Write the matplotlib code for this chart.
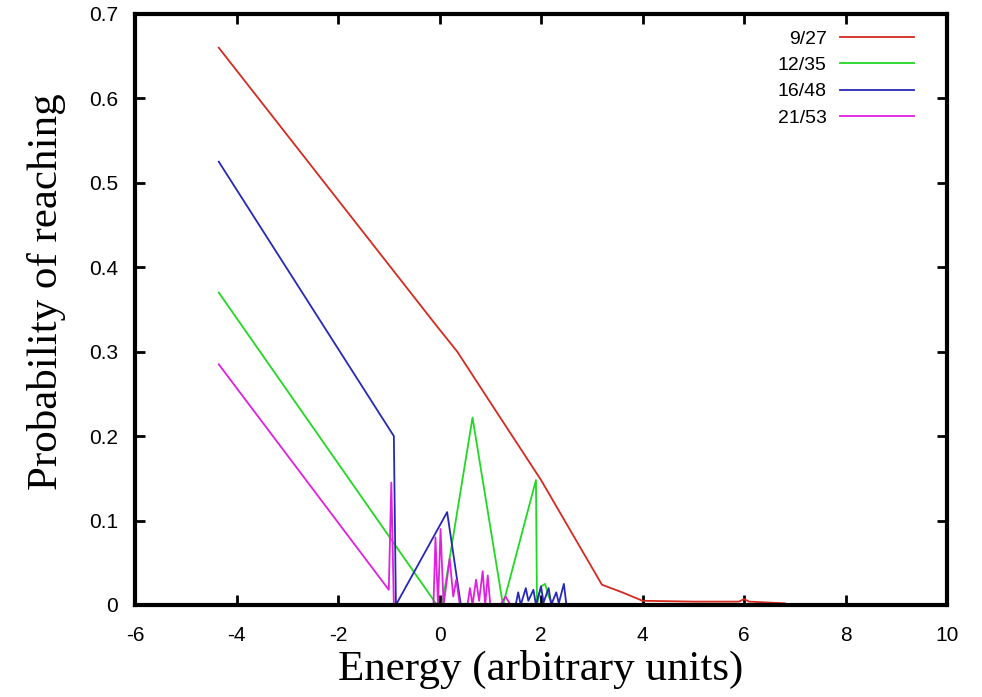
import numpy as np
import matplotlib as mpl
mpl.use('Agg')
import matplotlib.pyplot as plt

mpl.rcParams['font.family'] = ['Liberation Sans', 'DejaVu Sans']
mpl.rcParams['axes.unicode_minus'] = False

# series
red_x = [-4.35, -0.05, 0.35, 1.0, 2.0, 3.2, 3.6, 4.0, 5.0, 5.9, 6.0, 6.1, 6.8]
red_y = [0.66, 0.33, 0.30, 0.24, 0.148, 0.024, 0.015, 0.005, 0.004, 0.004, 0.007, 0.004, 0.002]

green_x = [-4.35, -0.05, 0.05, 0.65, 1.25, 1.9, 1.92, 2.0, 2.08, 2.15, 2.25]
green_y = [0.37, 0.0, 0.0, 0.222, 0.0, 0.148, 0.0, 0.022, 0.025, 0.01, 0.0]

blue_x = [-4.35, -0.9, -0.86, 0.15, 0.42, 1.5, 1.55, 1.6, 1.7, 1.75, 1.85, 1.9,
          2.0, 2.05, 2.15, 2.2, 2.3, 2.35, 2.45, 2.5, 2.55]
blue_y = [0.525, 0.2, 0.0, 0.11, 0.0, 0.0, 0.015, 0.0, 0.02, 0.005, 0.018, 0.0,
          0.022, 0.003, 0.02, 0.0, 0.015, 0.002, 0.025, 0.0, 0.0]

magenta_x = [-4.35, -1.0, -0.95, -0.9, -0.2, -0.12, -0.08, -0.03, 0.02, 0.08,
             0.2, 0.27, 0.33, 0.4, 0.55, 0.6, 0.65, 0.72, 0.78, 0.85, 0.9,
             0.95, 1.0, 1.2, 1.3, 1.4]
magenta_y = [0.285, 0.018, 0.145, 0.0, 0.0, 0.0, 0.08, 0.0, 0.09, 0.0,
             0.055, 0.01, 0.03, 0.0, 0.0, 0.02, 0.0, 0.03, 0.005, 0.04, 0.0,
             0.035, 0.0, 0.0, 0.01, 0.0]

labels = ['9/27', '12/35', '16/48', '21/53']
colors = ['#d42a20', '#22d822', '#2828b8', '#e020e0']

x_ticks = [-6, -4, -2, 0, 2, 4, 6, 8, 10]
y_ticks = [0, 0.1, 0.2, 0.3, 0.4, 0.5, 0.6, 0.7]
y_tick_labels = ['0', '0.1', '0.2', '0.3', '0.4', '0.5', '0.6', '0.7']

fig = plt.figure(figsize=(9.82, 6.97), dpi=100)
ax = fig.add_axes([0.1375, 0.132, 0.8269, 0.848])

series = [(red_x, red_y), (green_x, green_y), (blue_x, blue_y), (magenta_x, magenta_y)]
for (xs, ys), lab, col in zip(series, labels, colors):
    ax.plot(xs, ys, color=col, linewidth=1.3, label=lab)

ax.set_xlim(-6, 10)
ax.set_ylim(0, 0.7)
ax.set_xticks(x_ticks)
ax.set_yticks(y_ticks)
ax.set_yticklabels(y_tick_labels)
ax.tick_params(direction='in', length=7, width=2, labelsize=15,
               top=True, right=True)
ax.tick_params(axis='x', pad=15)
ax.tick_params(axis='y', pad=12)
for sp in ax.spines.values():
    sp.set_linewidth(3)

ax.set_xlabel('Energy (arbitrary units)', fontsize=31, family='Liberation Serif', labelpad=4)
ax.set_ylabel('Probability of reaching', fontsize=31, family='Liberation Serif',
              labelpad=17, y=0.53)

ax.legend(loc='upper right', bbox_to_anchor=(0.969, 0.986), borderaxespad=0,
          frameon=False, markerfirst=False, fontsize=14,
          handlelength=3.8, labelspacing=0.45, handletextpad=0.7)

fig.savefig('out.png', dpi=100)
